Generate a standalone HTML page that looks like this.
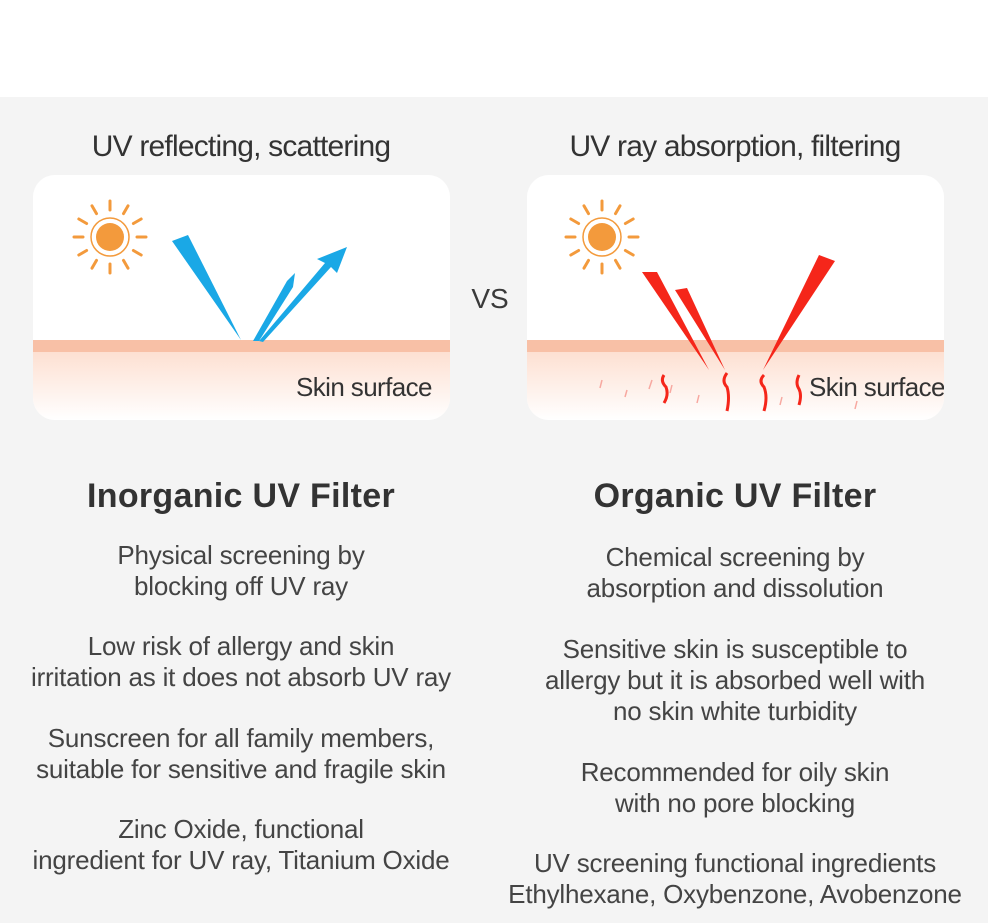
<!DOCTYPE html>
<html><head><meta charset="utf-8"><style>
body{margin:0;width:988px;height:923px;overflow:hidden;background:#fff;font-family:"Liberation Sans","DejaVu Sans",sans-serif;color:#3a3a3a}
.bg{position:absolute;left:0;top:97px;width:988px;height:826px;background:#f4f4f4}
.t{position:absolute;text-align:center;white-space:nowrap}
.h{font-size:30px;top:130px;letter-spacing:-0.8px;color:#333}
.card{position:absolute;top:175px;width:417px;height:245px;background:#fff;border-radius:22px;overflow:hidden}
.band{position:absolute;left:0;top:165px;width:100%;height:12px;background:#f8c0a6}
.grad{position:absolute;left:0;top:177px;width:100%;height:68px;background:linear-gradient(#fde0d2,#fff)}
.ss{position:absolute;font-size:26px;color:#333;letter-spacing:-0.6px;white-space:nowrap}
.title{font-size:34px;font-weight:bold;top:477px;color:#333;letter-spacing:0.3px}
.p{font-size:26px;line-height:31px;color:#444;letter-spacing:-0.2px}
</style></head><body>
<div class="bg"></div>
<div class="t h" style="left:0;width:482px">UV reflecting, scattering</div>
<div class="t h" style="left:494px;width:482px">UV ray absorption, filtering</div>
<div class="card" style="left:33px">
<div class="band"></div><div class="grad"></div>
<svg width="417" height="245" style="position:absolute;left:0;top:0">
<g transform="translate(77,62)" stroke="#f39a3c" stroke-width="3" stroke-linecap="round">
<circle r="14" fill="#f39a3c" stroke="none"/><circle r="19" fill="none" stroke-width="1.5"/>
<g id="r1"><line x1="0" y1="-27" x2="0" y2="-36"/><line x1="0" y1="27" x2="0" y2="36"/><line x1="-27" y1="0" x2="-36" y2="0"/><line x1="27" y1="0" x2="36" y2="0"/></g>
<use href="#r1" transform="rotate(30)"/><use href="#r1" transform="rotate(60)"/></g>
<polygon points="139,66 155,60 208,165" fill="#1aa8e6"/>
<polygon points="220,166 254,106 262,98 260,112 226,166" fill="#1aa8e6"/>
<polygon points="226,166 292,88 284,84 314,72 304,98 298,92 230,167" fill="#1aa8e6"/>
</svg>
<div class="ss" style="left:263px;top:197px">Skin surface</div>
</div>
<div class="t" style="left:470px;top:283px;font-size:28px;width:40px">VS</div>
<div class="card" style="left:527px">
<div class="band"></div><div class="grad"></div>
<svg width="418" height="245" style="position:absolute;left:0;top:0">
<g transform="translate(75,62)" stroke="#f39a3c" stroke-width="3" stroke-linecap="round">
<circle r="14" fill="#f39a3c" stroke="none"/><circle r="19" fill="none" stroke-width="1.5"/>
<g id="r2"><line x1="0" y1="-27" x2="0" y2="-36"/><line x1="0" y1="27" x2="0" y2="36"/><line x1="-27" y1="0" x2="-36" y2="0"/><line x1="27" y1="0" x2="36" y2="0"/></g>
<use href="#r2" transform="rotate(30)"/><use href="#r2" transform="rotate(60)"/></g>
<polygon points="115,97 130,97 182,195" fill="#f5261a"/>
<polygon points="148,115 160,113 198,195" fill="#f5261a"/>
<polygon points="292,80 308,86 236,195" fill="#f5261a"/>
<g stroke="#f5261a" stroke-width="3" fill="none">
<path d="M137,200 q-4,6 2,12 q3,8 -2,16"/><path d="M200,198 q-6,8 0,14 q3,10 0,24"/><path d="M237,200 q-6,6 0,12 q4,10 0,24"/><path d="M272,200 q-4,8 0,14 q3,6 0,16"/>
</g>
<g stroke="#f7a8a0" stroke-width="1.5"><line x1="75" y1="205" x2="73" y2="213"/><line x1="100" y1="215" x2="98" y2="222"/><line x1="125" y1="205" x2="122" y2="214"/><line x1="145" y1="210" x2="143" y2="218"/><line x1="172" y1="220" x2="170" y2="228"/><line x1="255" y1="222" x2="253" y2="230"/><line x1="330" y1="226" x2="328" y2="234"/></g>
</svg>
<div class="ss" style="left:282px;top:197px">Skin surface</div>
</div>
<div class="t title" style="left:0;width:482px">Inorganic UV Filter</div>
<div class="t title" style="left:494px;width:482px">Organic UV Filter</div>
<div class="t p" style="left:0;width:482px;top:540px">Physical screening by<br>blocking off UV ray</div>
<div class="t p" style="left:0;width:482px;top:631px">Low risk of allergy and skin<br>irritation as it does not absorb UV ray</div>
<div class="t p" style="left:0;width:482px;top:723px">Sunscreen for all family members,<br>suitable for sensitive and fragile skin</div>
<div class="t p" style="left:0;width:482px;top:814px">Zinc Oxide, functional<br>ingredient for UV ray, Titanium Oxide</div>
<div class="t p" style="left:494px;width:482px;top:542px">Chemical screening by<br>absorption and dissolution</div>
<div class="t p" style="left:494px;width:482px;top:634px">Sensitive skin is susceptible to<br>allergy but it is absorbed well with<br>no skin white turbidity</div>
<div class="t p" style="left:494px;width:482px;top:757px">Recommended for oily skin<br>with no pore blocking</div>
<div class="t p" style="left:494px;width:482px;top:848px">UV screening functional ingredients<br>Ethylhexane, Oxybenzone, Avobenzone</div>
</body></html>
